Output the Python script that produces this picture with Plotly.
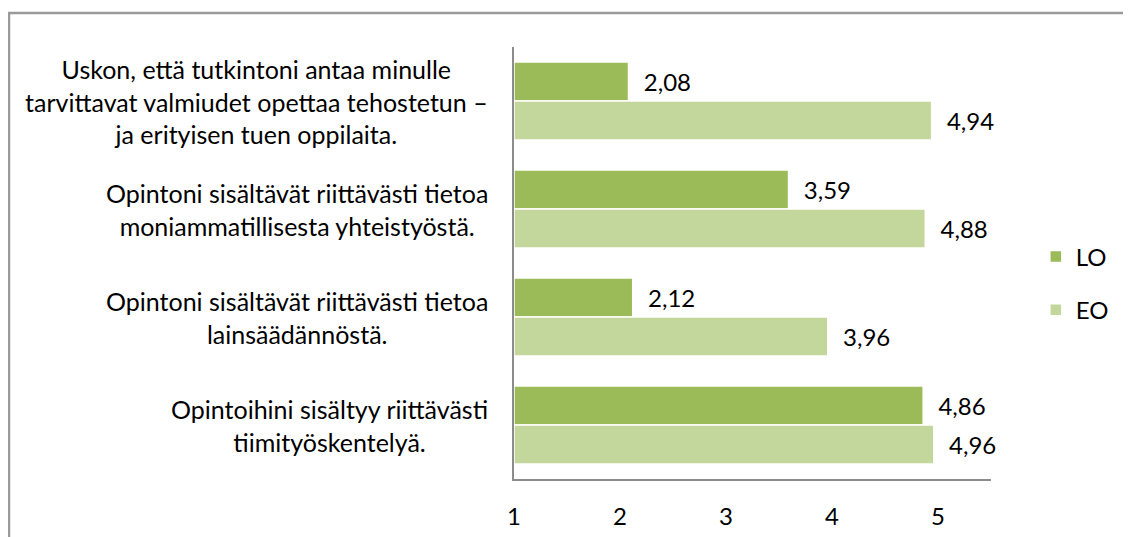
import plotly.graph_objects as go

categories = [
    "Uskon, että tutkintoni antaa minulle<br>tarvittavat valmiudet opettaa tehostetun –<br>ja erityisen tuen oppilaita.",
    "Opintoni sisältävät riittävästi tietoa<br>moniammatillisesta yhteistyöstä.",
    "Opintoni sisältävät riittävästi tietoa<br>lainsäädännöstä.",
    "Opintoihini sisältyy riittävästi<br>tiimityöskentelyä.",
]
cat_ids = ["c1", "c2", "c3", "c4"]
lo_values = [2.08, 3.59, 2.12, 4.86]
eo_values = [4.94, 4.88, 3.96, 4.96]
series_names = ["LO", "EO"]
series_colors = ["#9BBB59", "#C3D69B"]
x_ticks = [1, 2, 3, 4, 5]

FONT = "Lato"
FS = 25

fig = go.Figure()
for name, vals, col in zip(series_names, [lo_values, eo_values], series_colors):
    fig.add_trace(go.Bar(
        y=cat_ids, x=[v - 1 for v in vals], base=1, name=name, orientation="h",
        marker=dict(color=col, line=dict(color="white", width=1.5)),
        customdata=vals,
        texttemplate="\u00a0\u00a0%{customdata:.2f}", textposition="outside",
        textfont=dict(family=FONT, size=FS - 1, color="black"),
        constraintext="none", cliponaxis=False, legendgroup=name,
        hoverinfo="skip",
    ))

annotations = []
for cid, label in zip(cat_ids, categories):
    annotations.append(dict(
        x=0, xref="paper", y=cid, yref="y", xanchor="right", xshift=-24,
        text=label, showarrow=False, align="center",
        font=dict(family=FONT, size=FS, color="black"),
    ))

fig.update_layout(
    width=1131, height=537,
    margin=dict(l=506, r=148, t=39, b=66, autoexpand=False),
    paper_bgcolor="white", plot_bgcolor="white",
    barmode="group", bargap=0.28, bargroupgap=0,
    separators=",.",
    font=dict(family=FONT, size=FS, color="black"),
    showlegend=True,
    legend=dict(x=1.094, y=0.566, xanchor="left", yanchor="top",
                font=dict(family=FONT, size=FS - 1, color="black"),
                tracegroupgap=19, itemwidth=30),
    annotations=annotations,
    shapes=[dict(type="rect", xref="paper", yref="paper",
                 x0=-1.0587, x1=1.32, y0=-0.16, y1=1.0787,
                 line=dict(color="#9a9a9a", width=2.5), layer="below")],
)
fig.update_xaxes(range=[1, 5.5], tickvals=x_ticks, showgrid=False, zeroline=False,
                 showline=True, linecolor="#8c8c8c", linewidth=1.5, ticks="",
                 ticklabelstandoff=15, automargin=False,
                 tickfont=dict(family=FONT, size=FS - 1, color="black"))
fig.update_yaxes(autorange="reversed", showticklabels=False, showgrid=False,
                 automargin=False,
                 zeroline=False, showline=True, linecolor="#8c8c8c", linewidth=1.5, ticks="")

fig.write_html("out.html")
